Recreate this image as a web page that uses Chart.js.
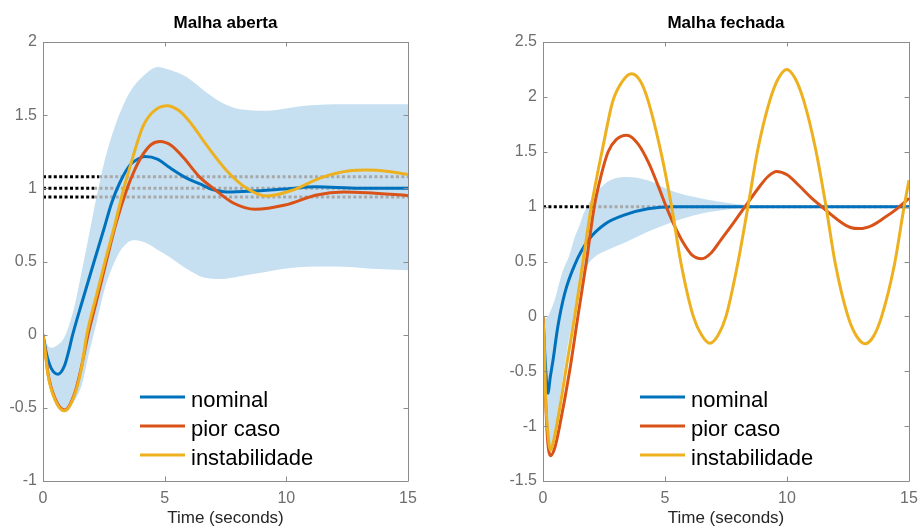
<!DOCTYPE html>
<html>
<head>
<meta charset="utf-8">
<script src="https://cdn.jsdelivr.net/npm/chart.js@4.4.0/dist/chart.umd.min.js"></script>
<style>
  html, body { margin: 0; padding: 0; background: #fff; }
  #wrap { position: relative; width: 919px; height: 530px; }
  canvas { position: absolute; top: 0; }
  #openChart { left: 0; }
  #closedChart { left: 459px; }
</style>
</head>
<body>
<div id="wrap">
  <canvas id="openChart" width="459" height="530"></canvas>
  <canvas id="closedChart" width="460" height="530"></canvas>
</div>
<script>
// labels and ticks
const seriesLabels = ['nominal', 'pior caso', 'instabilidade'];
const xTicks = [0, 5, 10, 15];
const openYTicks = [-1, -0.5, 0, 0.5, 1, 1.5, 2];
const closedYTicks = [-1.5, -1, -0.5, 0, 0.5, 1, 1.5, 2, 2.5];

// Malha aberta
const openNominalT = [0, 0.14, 0.34, 0.62, 0.89, 1.03, 1.22, 1.6, 2.1, 2.5, 2.82, 3.16, 3.58, 3.9, 4.19, 4.7, 5.22, 5.9, 6.45, 7.0, 7.55, 8.5, 9.9, 11.2, 13, 15];
const openNominalY = [0, -0.13, -0.23, -0.27, -0.21, -0.13, 0, 0.22, 0.5, 0.72, 0.9, 1.04, 1.16, 1.2, 1.217, 1.2, 1.14, 1.07, 1.03, 0.99, 0.975, 0.98, 0.995, 1.01, 1.0, 1.0];
const openWorstT = [0, 0.1, 0.2, 0.48, 0.9, 1.3, 1.58, 1.85, 2.2, 2.6, 3.0, 3.46, 3.75, 4.12, 4.45, 4.81, 5.3, 5.77, 6.45, 7.0, 7.82, 8.71, 9.95, 11.25, 12.35, 13.3, 15];
const openWorstY = [0, -0.12, -0.26, -0.43, -0.515, -0.4, -0.22, 0, 0.23, 0.5, 0.76, 1.0, 1.12, 1.235, 1.3, 1.32, 1.29, 1.21, 1.075, 1.0, 0.9, 0.857, 0.886, 0.955, 0.975, 0.97, 0.95];
const openUnstT = [0, 0.1, 0.2, 0.48, 0.89, 1.3, 1.58, 1.8, 2.2, 2.55, 2.95, 3.32, 3.6, 3.85, 4.1, 4.5, 5.08, 5.6, 6.1, 6.7, 7.55, 8.37, 9.19, 10.3, 11.38, 12.6, 13.3, 14.2, 15];
const openUnstY = [0, -0.13, -0.27, -0.44, -0.52, -0.41, -0.23, 0, 0.27, 0.5, 0.75, 1.0, 1.16, 1.3, 1.42, 1.52, 1.565, 1.53, 1.44, 1.3, 1.12, 1.0, 0.947, 0.99, 1.07, 1.12, 1.125, 1.115, 1.095];
const openBandT = [0, 0.3, 0.6, 0.9, 1.3, 1.6, 1.9, 2.2, 2.55, 2.95, 3.3, 3.7, 4.2, 4.7, 5.2, 5.9, 6.6, 7.3, 8.1, 9.2, 10.5, 12, 13.5, 15];
const openBandHi = [0, -0.09, -0.07, -0.01, 0.2, 0.44, 0.69, 0.94, 1.2, 1.42, 1.57, 1.69, 1.78, 1.83, 1.81, 1.76, 1.67, 1.59, 1.54, 1.53, 1.56, 1.575, 1.575, 1.575];
const openBandLo = [0, -0.34, -0.5, -0.53, -0.45, -0.34, -0.12, 0.08, 0.32, 0.5, 0.6, 0.645, 0.63, 0.58, 0.53, 0.45, 0.39, 0.38, 0.4, 0.43, 0.46, 0.465, 0.45, 0.44];
const openRefLevels = [1.08, 1.0, 0.94];
const openRefSplit = [2.3, 2.1, 2.1];

// Malha fechada
const closedNominalT = [0, 0.1, 0.2, 0.3, 0.41, 0.61, 0.89, 1.3, 1.84, 2.53, 3.35, 4.3, 5.3, 7, 15];
const closedNominalY = [0, -0.45, -0.7, -0.55, -0.4, -0.09, 0.21, 0.47, 0.69, 0.84, 0.925, 0.98, 1.0, 1.0, 1.0];
const closedWorstT = [0, 0.08, 0.18, 0.31, 0.48, 0.68, 1.09, 1.43, 1.78, 2.1, 2.4, 2.67, 3.0, 3.43, 3.9, 4.35, 4.7, 5.05, 5.4, 5.75, 6.1, 6.5, 6.9, 7.3, 7.8, 8.28, 8.9, 9.2, 9.58, 10.0, 10.5, 11.0, 11.42, 12.2, 12.6, 12.99, 13.5, 14.0, 14.5, 15];
const closedWorstY = [0, -0.6, -1.1, -1.27, -1.2, -1.0, -0.5, 0, 0.5, 1.0, 1.3, 1.5, 1.61, 1.65, 1.57, 1.39, 1.2, 1.0, 0.82, 0.67, 0.56, 0.525, 0.58, 0.7, 0.85, 1.0, 1.19, 1.27, 1.32, 1.29, 1.19, 1.08, 1.0, 0.86, 0.81, 0.8, 0.83, 0.9, 0.98, 1.076];
const closedUnstT = [0, 0.05, 0.1, 0.2, 0.31, 0.45, 0.75, 1.0, 1.3, 1.64, 1.98, 2.47, 2.86, 3.25, 3.63, 4.0, 4.3, 4.85, 5.27, 5.66, 6.16, 6.5, 6.84, 7.18, 7.5, 7.98, 8.4, 8.8, 9.3, 9.65, 9.99, 10.33, 10.68, 11.18, 11.6, 11.98, 12.5, 12.85, 13.2, 13.55, 13.88, 14.4, 14.8, 15];
const closedUnstY = [0, -0.25, -0.7, -1.06, -1.22, -1.12, -0.75, -0.4, 0, 0.5, 1.0, 1.56, 1.96, 2.14, 2.21, 2.14, 1.97, 1.48, 1.0, 0.48, 0, -0.17, -0.245, -0.17, 0, 0.48, 1.0, 1.516, 1.97, 2.17, 2.25, 2.17, 1.97, 1.516, 1.0, 0.48, 0, -0.18, -0.25, -0.18, 0, 0.468, 1.0, 1.24];
const closedBandT = [0, 0.1, 0.2, 0.31, 0.48, 0.66, 0.82, 1.07, 1.3, 1.5, 1.65, 1.8, 2.06, 2.6, 3.43, 4.29, 5.2, 6.16, 7.25, 8.5, 9.5, 15];
const closedBandHi = [0, -0.02, 0.0, 0.05, 0.15, 0.3, 0.42, 0.55, 0.72, 0.83, 0.93, 1.0, 1.09, 1.22, 1.27, 1.24, 1.15, 1.09, 1.045, 1.01, 1.0, 1.0];
const closedBandLo = [0, -0.7, -1.1, -1.22, -1.07, -0.8, -0.55, -0.2, 0.02, 0.21, 0.33, 0.45, 0.53, 0.6, 0.68, 0.77, 0.85, 0.92, 0.965, 0.99, 1.0, 1.0];
const closedRefLevels = [1.0];
const closedRefSplit = [2.05];

const seriesColors = ['#0072bd', '#d95319', '#edb120'];
const bandColor = '#c6e0f1';
const axisColor = '#8c8c8c';
const fontFamily = '"Liberation Sans", Arial, Helvetica, sans-serif';

Chart.defaults.font.family = fontFamily;

function pts(ts, vs) {
    return ts.map((t, i) => ({ x: t, y: vs[i] }));
}

// MATLAB-like box with inward ticks
const frame = {
    id: 'frame',
    afterDatasetsDraw(chart) {
        const { ctx, chartArea: a, scales: { x, y } } = chart;
        const len = 4.5;
        ctx.save();
        ctx.strokeStyle = axisColor;
        ctx.lineWidth = 1;
        ctx.beginPath();
        ctx.rect(Math.round(a.left) + 0.5, Math.round(a.top) + 0.5,
            Math.round(a.right - a.left), Math.round(a.bottom - a.top));
        x.ticks.forEach(t => {
            const px = Math.round(x.getPixelForValue(t.value)) + 0.5;
            ctx.moveTo(px, a.bottom); ctx.lineTo(px, a.bottom - len);
            ctx.moveTo(px, a.top); ctx.lineTo(px, a.top + len);
        });
        y.ticks.forEach(t => {
            const py = Math.round(y.getPixelForValue(t.value)) + 0.5;
            ctx.moveTo(a.left, py); ctx.lineTo(a.left + len, py);
            ctx.moveTo(a.right, py); ctx.lineTo(a.right - len, py);
        });
        ctx.stroke();
        ctx.restore();
    }
};

// legend inside the axes, no box
const lineLegend = {
    id: 'lineLegend',
    afterDraw(chart) {
        const { ctx, chartArea: a } = chart;
        ctx.save();
        ctx.font = '22px ' + fontFamily;
        ctx.textBaseline = 'alphabetic';
        seriesLabels.forEach((label, i) => {
            const y = a.bottom - 84 + i * 29;
            ctx.strokeStyle = seriesColors[i];
            ctx.lineWidth = 3;
            ctx.beginPath();
            ctx.moveTo(a.left + 97, y);
            ctx.lineTo(a.left + 142, y);
            ctx.stroke();
            ctx.fillStyle = '#000';
            ctx.fillText(label, a.left + 148, y + 9.5);
        });
        ctx.restore();
    }
};

function buildDatasets(d) {
    const xMax = xTicks[xTicks.length - 1];
    const sets = [
        { data: pts(d.bandT, d.bandHi), fill: '+1', backgroundColor: bandColor, borderColor: 'transparent', borderWidth: 0, cubicInterpolationMode: 'monotone', order: 10 },
        { data: pts(d.bandT, d.bandLo), fill: false, borderColor: 'transparent', borderWidth: 0, cubicInterpolationMode: 'monotone', order: 10 }
    ];
    d.refLevels.forEach((lvl, i) => {
        sets.push({ data: [{ x: 0, y: lvl }, { x: d.refSplit[i], y: lvl }], borderColor: '#000', borderWidth: 3, borderDash: [3, 2.4], order: 7 });
        sets.push({ data: [{ x: d.refSplit[i], y: lvl }, { x: xMax, y: lvl }], borderColor: '#a8a8a8', borderWidth: 3, borderDash: [3, 2.4], order: 8 });
    });
    const lines = [[d.nomT, d.nomY], [d.worstT, d.worstY], [d.unstT, d.unstY]];
    lines.forEach(([ts, vs], i) => {
        sets.push({ label: seriesLabels[i], data: pts(ts, vs), borderColor: seriesColors[i], borderWidth: 3, cubicInterpolationMode: 'monotone', order: 3 - i });
    });
    return sets;
}

function makeChart(id, title, yTicks, axisWidth, padRight, d) {
    const ctx = document.getElementById(id).getContext('2d');
    return new Chart(ctx, {
        type: 'line',
        data: { datasets: buildDatasets(d) },
        options: {
            responsive: false,
            animation: false,
            layout: { padding: { left: 0, right: padRight, top: 0, bottom: 0 } },
            elements: { point: { radius: 0 }, line: { borderCapStyle: 'butt' } },
            scales: {
                x: {
                    type: 'linear',
                    min: xTicks[0],
                    max: xTicks[xTicks.length - 1],
                    afterBuildTicks: s => { s.ticks = xTicks.map(v => ({ value: v })); },
                    afterFit: s => { s.height = 49; s.paddingLeft = 0; s.paddingRight = 0; },
                    grid: { display: false, drawTicks: false },
                    border: { display: false },
                    ticks: { color: '#6e6e6e', font: { size: 16 }, padding: 8, maxRotation: 0, autoSkip: false, callback: v => String(v) },
                    title: { display: true, text: 'Time (seconds)', color: '#262626', font: { size: 17 }, padding: { top: 0, bottom: 1.8 } }
                },
                y: {
                    min: yTicks[0],
                    max: yTicks[yTicks.length - 1],
                    afterBuildTicks: s => { s.ticks = yTicks.map(v => ({ value: v })); },
                    afterFit: s => { s.width = axisWidth; s.paddingTop = 0; s.paddingBottom = 0; },
                    grid: { display: false, drawTicks: false },
                    border: { display: false },
                    ticks: { color: '#6e6e6e', font: { size: 16 }, padding: 6, autoSkip: false, callback: v => String(v) }
                }
            },
            plugins: {
                legend: { display: false },
                tooltip: { enabled: false },
                title: {
                    display: true, text: title, color: '#000', fullSize: false,
                    font: { size: 17, weight: 'bold' }, padding: { top: 13.6, bottom: 8 }
                }
            }
        },
        plugins: [frame, lineLegend]
    });
}

makeChart('openChart', 'Malha aberta', openYTicks, 43, 51, {
    nomT: openNominalT, nomY: openNominalY,
    worstT: openWorstT, worstY: openWorstY,
    unstT: openUnstT, unstY: openUnstY,
    bandT: openBandT, bandHi: openBandHi, bandLo: openBandLo,
    refLevels: openRefLevels, refSplit: openRefSplit
});

makeChart('closedChart', 'Malha fechada', closedYTicks, 84, 10, {
    nomT: closedNominalT, nomY: closedNominalY,
    worstT: closedWorstT, worstY: closedWorstY,
    unstT: closedUnstT, unstY: closedUnstY,
    bandT: closedBandT, bandHi: closedBandHi, bandLo: closedBandLo,
    refLevels: closedRefLevels, refSplit: closedRefSplit
});
</script>
</body>
</html>
